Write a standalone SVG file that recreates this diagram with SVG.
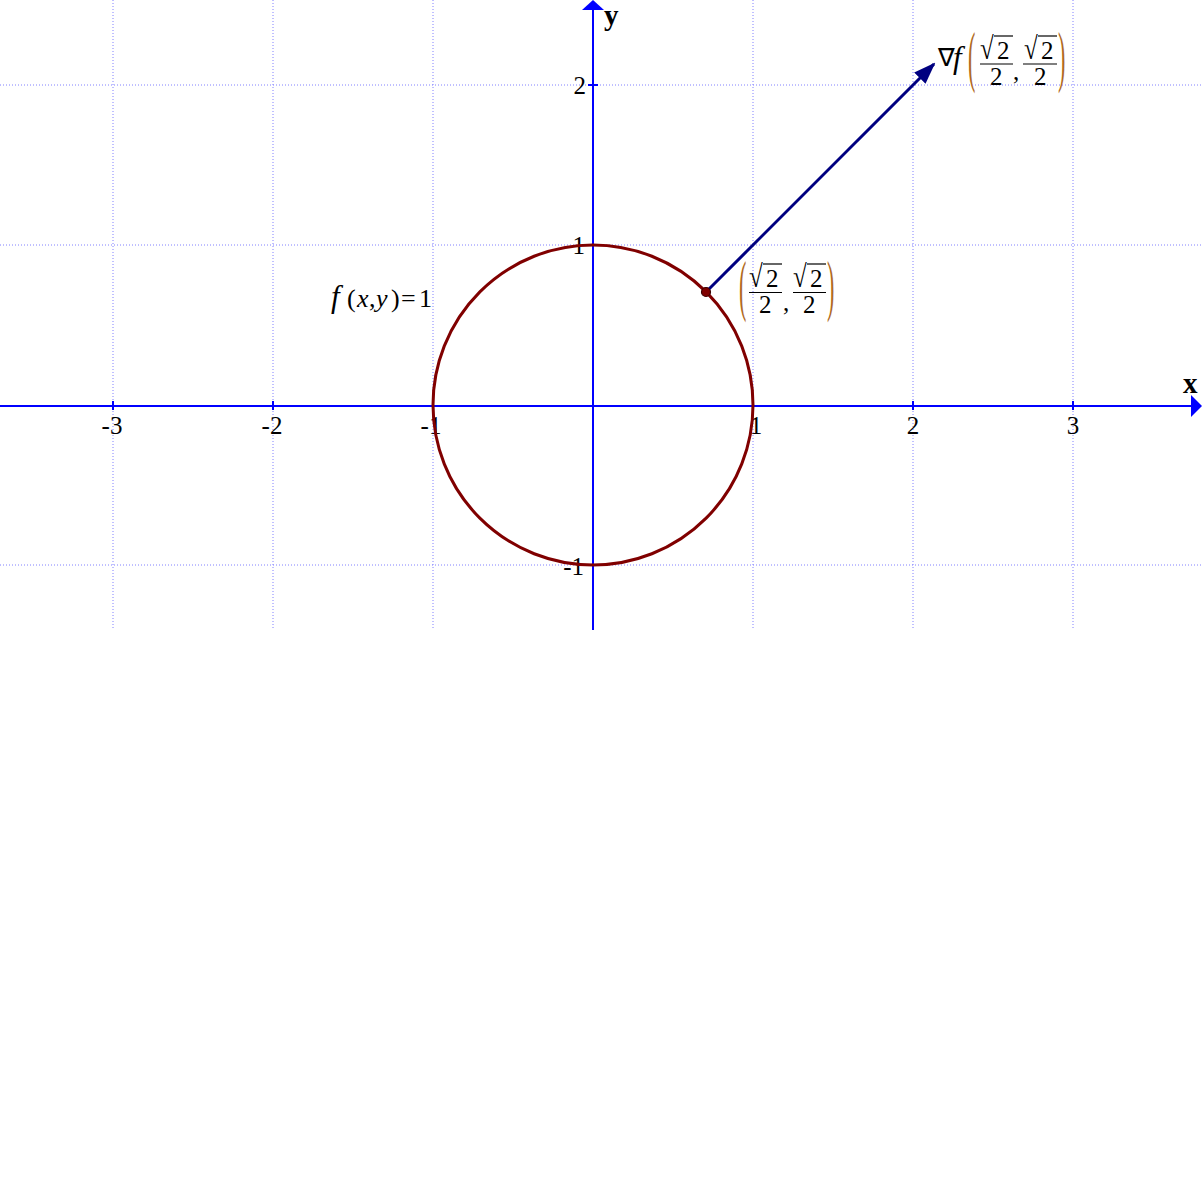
<svg xmlns="http://www.w3.org/2000/svg" width="1202" height="1178" viewBox="0 0 1202 1178">
<style>
.grid line{stroke:#8080ff;stroke-width:1;stroke-dasharray:1 2}
.ax{stroke:#0000ff;stroke-width:2}
.tk{font-family:"Liberation Serif","Times New Roman",serif;font-size:25px;fill:#000}
.m{font-family:"Liberation Serif","Times New Roman",serif;font-size:25px;fill:#000}
.it{font-style:italic}
.par{font-family:"Liberation Serif","Times New Roman",serif;font-size:22px;fill:#b06a1e}
.bar{stroke:#000;stroke-width:1.2}
.albl{font-family:"Liberation Serif","Times New Roman",serif;font-size:29px;font-weight:bold;fill:#000}
</style>
<defs>
<marker id="vh" viewBox="0 0 22 16" refX="20" refY="8" markerWidth="22" markerHeight="16" markerUnits="userSpaceOnUse" orient="auto">
<path d="M0,0 L22,8 L0,16 Z" fill="#000080"/>
</marker>
</defs>
<rect width="1202" height="1178" fill="#fff"/>
<g id="grid" class="grid">
<line x1="113" y1="0" x2="113" y2="630"/>
<line x1="273" y1="0" x2="273" y2="630"/>
<line x1="433" y1="0" x2="433" y2="630"/>
<line x1="753" y1="0" x2="753" y2="630"/>
<line x1="913" y1="0" x2="913" y2="630"/>
<line x1="1073" y1="0" x2="1073" y2="630"/>
<line x1="0" y1="85" x2="1202" y2="85"/>
<line x1="0" y1="245" x2="1202" y2="245"/>
<line x1="0" y1="565" x2="1202" y2="565"/>
</g>
<g id="axes">
<line class="ax" x1="0" y1="406" x2="1192" y2="406"/>
<path d="M1191,395 L1202,406 L1191,417 Z" fill="#0000ff"/>
<line class="ax" x1="593" y1="630" x2="593" y2="9"/>
<path d="M582,10 L593,0 L604,10 Z" fill="#0000ff"/>
<g class="ax">
<line x1="113" y1="401" x2="113" y2="410"/>
<line x1="273" y1="401" x2="273" y2="410"/>
<line x1="433" y1="401" x2="433" y2="410"/>
<line x1="753" y1="401" x2="753" y2="410"/>
<line x1="913" y1="401" x2="913" y2="410"/>
<line x1="1073" y1="401" x2="1073" y2="410"/>
<line x1="588" y1="85" x2="598" y2="85"/>
<line x1="588" y1="245" x2="598" y2="245"/>
<line x1="588" y1="565" x2="598" y2="565"/>
</g>
<text class="albl" x="1183" y="393">x</text>
<text class="albl" x="604" y="25">y</text>
<g class="tk" text-anchor="middle">
<text x="112" y="434">-3</text>
<text x="272" y="434">-2</text>
<text x="431" y="434">-1</text>
<text x="756" y="434">1</text>
<text x="913" y="434">2</text>
<text x="1073" y="434">3</text>
</g>
<g class="tk" text-anchor="end">
<text x="586" y="94">2</text>
<text x="585" y="254">1</text>
<text x="584" y="575">-1</text>
</g>
</g>
<g id="curve">
<circle cx="593" cy="405" r="160" fill="none" stroke="#800000" stroke-width="3"/>
</g>
<g id="connectors">
<line x1="706" y1="292" x2="934" y2="64" stroke="#000080" stroke-width="3" marker-end="url(#vh)"/>
</g>
<g id="point">
<circle cx="706" cy="292" r="4.5" fill="#800000" stroke="#3a0000" stroke-width="1.2"/>
</g>
<g id="label-curve">
<text class="m it" x="331" y="307" style="font-size:31px">f</text>
<text class="m" x="347" y="307" style="font-size:26px">(</text>
<text class="m it" x="357" y="307" style="font-size:26px">x</text>
<text class="m" x="369" y="307" style="font-size:26px">,</text>
<text class="m it" x="376" y="307" style="font-size:26px">y</text>
<text class="m" x="391" y="307" style="font-size:26px">)</text>
<text class="m" x="401" y="307" style="font-size:26px">=</text>
<text class="m" x="419" y="307" style="font-size:26px">1</text>
</g>
<g id="label-point">
<text class="par" transform="translate(739,308) scale(1,3.1)">(</text>
<text class="m" transform="translate(749,287) scale(1,1.25)">√</text>
<text class="m" x="766" y="287">2</text>
<line class="bar" x1="763" y1="264" x2="782" y2="264"/>
<line class="bar" x1="749" y1="292.5" x2="782" y2="292.5"/>
<text class="m" x="759" y="313">2</text>
<text class="m" x="783" y="311">,</text>
<text class="m" transform="translate(793,287) scale(1,1.25)">√</text>
<text class="m" x="810" y="287">2</text>
<line class="bar" x1="807" y1="264" x2="826" y2="264"/>
<line class="bar" x1="793" y1="292.5" x2="826" y2="292.5"/>
<text class="m" x="803" y="313">2</text>
<text class="par" transform="translate(827,308) scale(1,3.1)">)</text>
</g>
<g id="label-gradient">
<text class="m" x="938" y="66">∇</text>
<text class="m it" x="953" y="68" style="font-size:31px">f</text>
<text class="par" transform="translate(968,78.5) scale(1,3.1)">(</text>
<text class="m" transform="translate(980,59) scale(1,1.25)">√</text>
<text class="m" x="997" y="59">2</text>
<line class="bar" x1="994" y1="36" x2="1013" y2="36"/>
<line class="bar" x1="980" y1="64" x2="1013" y2="64"/>
<text class="m" x="990" y="85">2</text>
<text class="m" x="1013" y="80">,</text>
<text class="m" transform="translate(1024,59) scale(1,1.25)">√</text>
<text class="m" x="1041" y="59">2</text>
<line class="bar" x1="1038" y1="36" x2="1057" y2="36"/>
<line class="bar" x1="1023" y1="64" x2="1057" y2="64"/>
<text class="m" x="1034" y="85">2</text>
<text class="par" transform="translate(1058,78.5) scale(1,3.1)">)</text>
</g>
</svg>
